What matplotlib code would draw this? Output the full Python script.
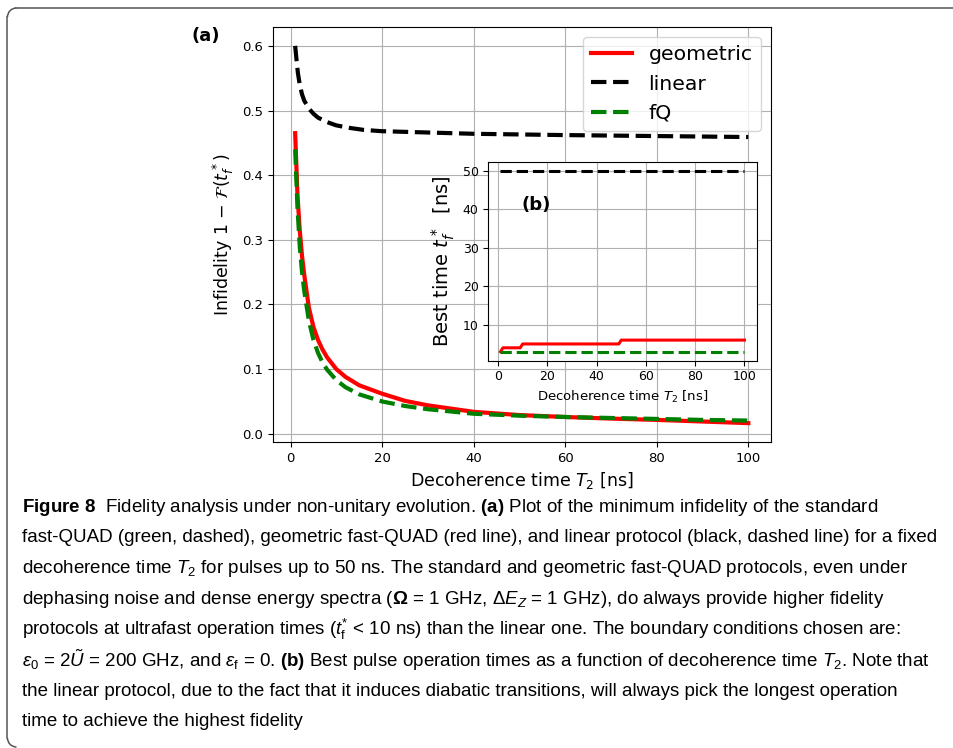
"""
Fidelity under non-unitary evolution: minimum infidelity vs. T2
with the best pulse time shown in an inset, plus the figure caption.
"""

import matplotlib
matplotlib.use("Agg")
import matplotlib.pyplot as plt
from matplotlib.lines import Line2D
from matplotlib.patches import Arc

# ─────────────────────────────────────────────
# DATA
# ─────────────────────────────────────────────

# (a) minimum infidelity 1 - F(t_f*) vs decoherence time T2 [ns]
T2 = [1, 1.5, 2, 2.5, 3, 4, 5, 6, 7, 8, 10, 12, 15, 20, 25, 30, 40, 50, 60, 70, 80, 90, 100]
geometric = [0.465, 0.37, 0.315, 0.275, 0.245, 0.195, 0.165, 0.145, 0.130, 0.118, 0.100,
             0.088, 0.075, 0.062, 0.051, 0.044, 0.034, 0.029, 0.026, 0.0235, 0.0215, 0.019, 0.0165]
fq = [0.44, 0.35, 0.29, 0.25, 0.22, 0.175, 0.145, 0.125, 0.11, 0.099, 0.083,
      0.072, 0.061, 0.050, 0.043, 0.038, 0.031, 0.028, 0.026, 0.0245, 0.023, 0.0215, 0.0205]

T2_lin = [1, 1.3, 1.6, 2, 2.5, 3, 4, 5, 6, 8, 10, 13, 16, 20, 30, 40, 60, 80, 100]
linear = [0.60, 0.578, 0.558, 0.540, 0.525, 0.515, 0.503, 0.495, 0.489, 0.482, 0.477,
          0.473, 0.470, 0.468, 0.466, 0.464, 0.462, 0.4605, 0.459]

# (b) best pulse time t_f* [ns] vs T2 [ns]
T2_best = [1, 2, 9, 10, 49, 50, 100]
best_geometric = [3, 4, 4, 5, 5, 6, 6]
T2_flat = [1, 100]
best_linear = [50, 50]
best_fq = [3, 3]

CAPTION = [
    r"$\mathbf{Figure\ 8}$  Fidelity analysis under non-unitary evolution. $\mathbf{(a)}$ Plot of the minimum infidelity of the standard",
    r"fast-QUAD (green, dashed), geometric fast-QUAD (red line), and linear protocol (black, dashed line) for a fixed",
    r"decoherence time $T_2$ for pulses up to 50 ns. The standard and geometric fast-QUAD protocols, even under",
    r"dephasing noise and dense energy spectra ($\mathbf{\Omega}$ = 1 GHz, $\Delta E_Z$ = 1 GHz), do always provide higher fidelity",
    r"protocols at ultrafast operation times ($t_{\rm f}^{*}$ < 10 ns) than the linear one. The boundary conditions chosen are:",
    r"$\varepsilon_0$ = 2$\tilde{U}$ = 200 GHz, and $\varepsilon_{\rm f}$ = 0. $\mathbf{(b)}$ Best pulse operation times as a function of decoherence time $T_2$. Note that",
    r"the linear protocol, due to the fact that it induces diabatic transitions, will always pick the longest operation",
    r"time to achieve the highest fidelity",
]

CAPTION_FONT = ["Liberation Sans", "DejaVu Sans"]

plt.rcParams["mathtext.rm"] = "Liberation Sans"
plt.rcParams["mathtext.it"] = "Liberation Sans:italic"
plt.rcParams["mathtext.bf"] = "Liberation Sans:bold"

# ─────────────────────────────────────────────
# FIGURE
# ─────────────────────────────────────────────

W, H = 954, 748
fig = plt.figure(figsize=(W / 100, H / 100), dpi=100)

# caption frame: top edge, left edge and two rounded corners, in figure fractions
xl, yt, yb, r = 7.5 / W, 1 - 8 / H, 1 - 747 / H, 9
rx, ry = r / W, r / H
frame_kw = dict(transform=fig.transFigure, color="#555555", lw=1.1)
fig.add_artist(Line2D([xl + rx, 1.0], [yt, yt], **frame_kw))
fig.add_artist(Line2D([xl, xl], [yb + ry, yt - ry], **frame_kw))
fig.add_artist(Arc((xl + rx, yt - ry), 2 * rx, 2 * ry, theta1=90, theta2=180, **frame_kw))
fig.add_artist(Arc((xl + rx, yb + ry), 2 * rx, 2 * ry, theta1=180, theta2=270, **frame_kw))

# main panel
ax = fig.add_axes([272.5 / W, 1 - 442 / H, 498.5 / W, 415 / H])
ax.plot(T2, geometric, color="red", lw=3, label="geometric")
ax.plot(T2_lin, linear, color="black", lw=3, ls="--", label="linear")
ax.plot(T2, fq, color="green", lw=3, ls="--", label="fQ")
ax.set_xticks([0, 20, 40, 60, 80, 100])
ax.grid(True)
ax.tick_params(labelsize=9.5)
ax.set_xlabel(r"Decoherence time $T_2$ [ns]", fontsize=12.5)
ax.set_ylabel(r"Infidelity 1 $-$ $\mathcal{F}(t_f^*)$", fontsize=12.5)
ax.legend(loc="upper right", fontsize=14.7)

# inset panel
ax_in = fig.add_axes([488.3 / W, 1 - 360.7 / H, 268.4 / W, 199 / H])
ax_in.plot(T2_best, best_geometric, color="red", lw=2.2)
ax_in.plot(T2_flat, best_linear, color="black", lw=2.2, ls="--")
ax_in.plot(T2_flat, best_fq, color="green", lw=2.2, ls="--")
ax_in.set_xticks([0, 20, 40, 60, 80, 100])
ax_in.set_yticks([10, 20, 30, 40, 50])
ax_in.grid(True)
ax_in.tick_params(labelsize=9)
ax_in.set_xlabel(r"Decoherence time $T_2$ [ns]", fontsize=9.5)
ax_in.set_ylabel(r"Best time $t_f^*$  [ns]", fontsize=14)
ax_in.text(15.5, 41.2, "(b)", fontsize=13, fontweight="bold", ha="center", va="center")

fig.text(206 / W, 1 - 36 / H, "(a)", fontsize=13, fontweight="bold", ha="center", va="center")

# caption lines
y0, dy = 507, 30.7
for i, line in enumerate(CAPTION):
    fig.text(22 / W, 1 - (y0 + i * dy) / H, line, family=CAPTION_FONT,
             math_fontfamily="custom", fontsize=13.5, ha="left", va="center")

fig.savefig("out.png", dpi=100)
